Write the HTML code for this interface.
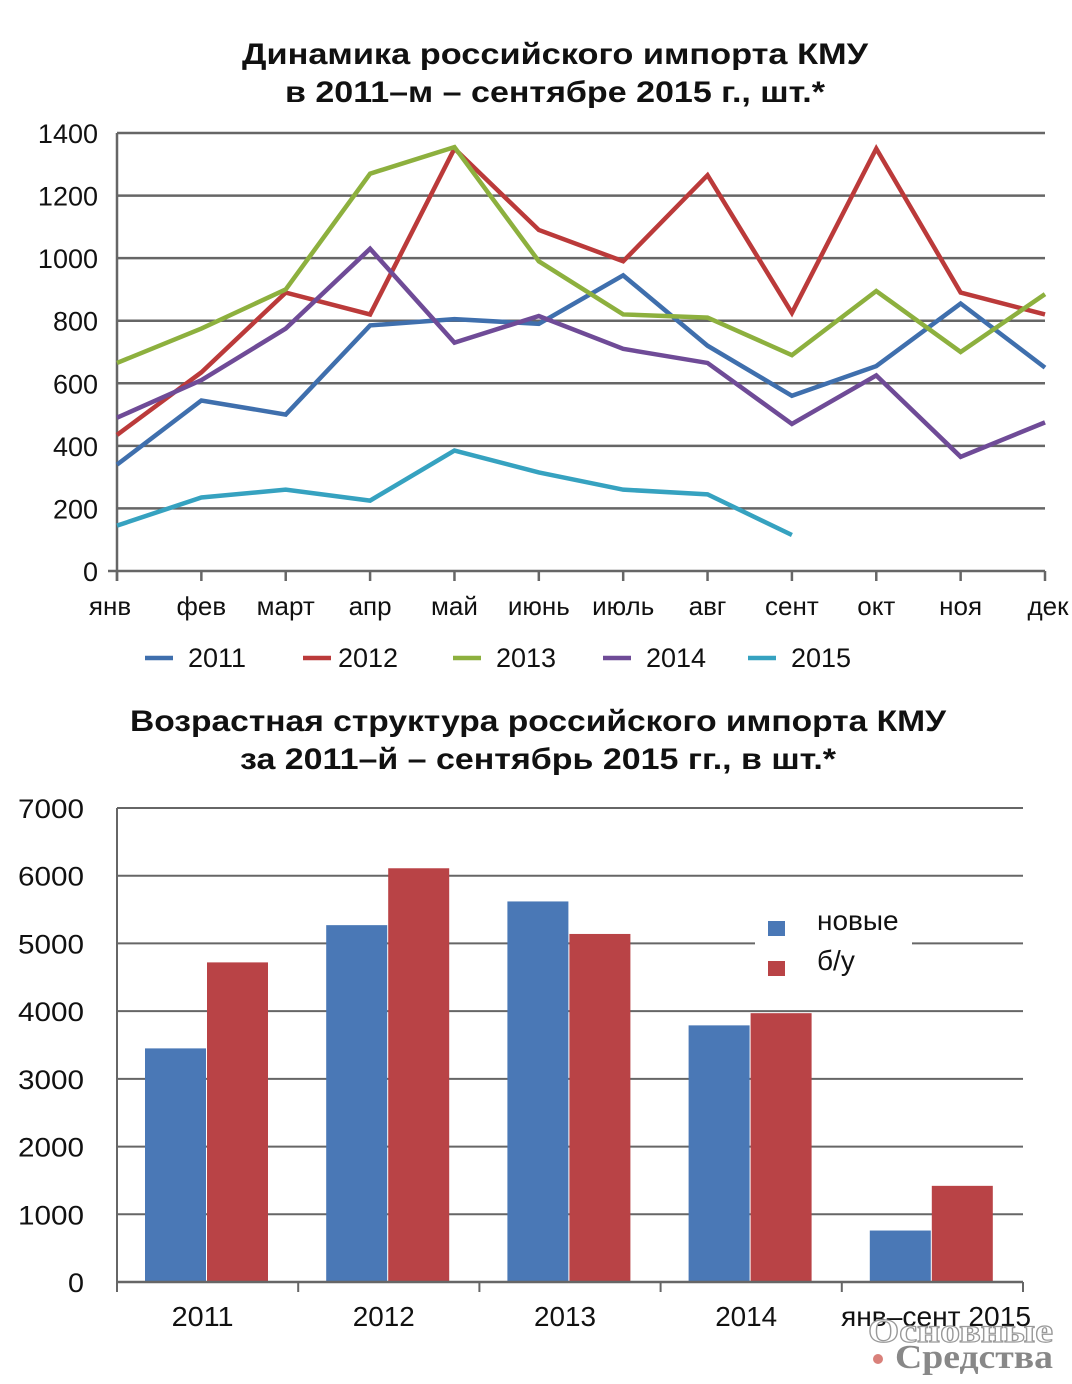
<!DOCTYPE html>
<html><head><meta charset="utf-8"><style>
body{margin:0;background:#fff;}
svg{display:block;font-family:"Liberation Sans","DejaVu Sans",sans-serif;}
</style></head><body>
<svg id="s" width="1072" height="1384" viewBox="0 0 1072 1384">
<text x="555" y="64" text-anchor="middle" font-size="30" font-weight="bold" fill="#111" textLength="626" lengthAdjust="spacingAndGlyphs">Динамика российского импорта КМУ</text>
<text x="555" y="102" text-anchor="middle" font-size="30" font-weight="bold" fill="#111" textLength="540" lengthAdjust="spacingAndGlyphs">в 2011–м – сентябре 2015 г., шт.*</text>
<text x="538" y="731" text-anchor="middle" font-size="30" font-weight="bold" fill="#111" textLength="816" lengthAdjust="spacingAndGlyphs">Возрастная структура российского импорта КМУ</text>
<text x="538" y="769" text-anchor="middle" font-size="30" font-weight="bold" fill="#111" textLength="596" lengthAdjust="spacingAndGlyphs">за 2011–й – сентябрь 2015 гг., в шт.*</text>
<g id="line"></g>
<g id="bar"></g>
<text x="1053" y="1342" text-anchor="end" font-family="Liberation Serif,serif" font-size="34" font-weight="bold" fill="#fff" stroke="#999" stroke-width="1.2" textLength="185" lengthAdjust="spacingAndGlyphs">Основные</text>
<circle cx="878" cy="1359" r="5" fill="#d9807a"/>
<text x="1053" y="1368" text-anchor="end" font-family="Liberation Serif,serif" font-size="34" font-weight="bold" fill="#888" textLength="158" lengthAdjust="spacingAndGlyphs">Средства</text>
</svg>
<script>
const months=["янв","фев","март","апр","май","июнь","июль","авг","сент","окт","ноя","дек"];
const years=["2011","2012","2013","2014","2015"];
const s2011=[340,545,500,785,805,790,945,720,560,655,855,650];
const s2012=[435,635,890,820,1350,1090,990,1265,825,1350,890,820];
const s2013=[665,775,900,1270,1355,990,820,810,690,895,700,885];
const s2014=[490,610,775,1030,730,815,710,665,470,625,365,475];
const s2015=[145,235,260,225,385,315,260,245,115];
const yTicks=[0,200,400,600,800,1000,1200,1400];
const barCats=["2011","2012","2013","2014","янв–сент 2015"];
const newVals=[3450,5270,5620,3790,760];
const usedVals=[4720,6110,5140,3970,1420];
const barTicks=[0,1000,2000,3000,4000,5000,6000,7000];
const colors=["#3f6fad","#bb3a3a","#8db03e","#6f4b97","#36a2c0"];
const NS="http://www.w3.org/2000/svg";
function mk(p,t,a){const e=document.createElementNS(NS,t);for(const k in a)e.setAttribute(k,a[k]);p.appendChild(e);return e;}
const L=document.getElementById('line');
const lx=i=>117+i*(1045-117)/11, ly=v=>571-v*(571-133)/1400;
yTicks.forEach(v=>{const g=mk(L,'line',{x1:v?117:108,x2:1045,y1:ly(v),y2:ly(v),stroke:'#666','stroke-width':2.5});


const t=mk(L,'text',{x:98,y:ly(v)+10,'text-anchor':'end','font-size':27,fill:'#111'});t.textContent=v;

});
mk(L,'line',{x1:117,x2:117,y1:133,y2:581,stroke:'#666','stroke-width':2.5});
months.forEach((m,i)=>{const tk=mk(L,'line',{x1:lx(i),x2:lx(i),y1:571,y2:581,stroke:'#666','stroke-width':2.5});


const t=mk(L,'text',{x:i==0?110:(i==11?1048:lx(i)),y:615,'text-anchor':'middle','font-size':26,fill:'#111'});t.textContent=m;

});
[s2011,s2012,s2013,s2014,s2015].forEach((s,k)=>{const p=mk(L,'polyline',{points:s.map((v,i)=>lx(i)+','+ly(v)).join(' '),fill:'none',stroke:colors[k],'stroke-width':4.5,'stroke-linejoin':'miter'});


const lxp=[145,303,453,603,748][k];
const ll=mk(L,'line',{x1:lxp,x2:lxp+28,y1:658,y2:658,stroke:colors[k],'stroke-width':4.5});


const t=mk(L,'text',{x:lxp+(k==1?35:43),y:667,'font-size':27,fill:'#111'});t.textContent=years[k];

});
const B=document.getElementById('bar');
const by=v=>1282-v*(1282-808)/7000, gw=(1023-117)/5;
barTicks.forEach(v=>{const g=mk(B,'line',{x1:117,x2:1023,y1:by(v),y2:by(v),stroke:'#666','stroke-width':2});


const t=mk(B,'text',{x:84,y:by(v)+10,'text-anchor':'end','font-size':27,fill:'#111',textLength:v?66:16,lengthAdjust:'spacingAndGlyphs'});t.textContent=v;

});
mk(B,'line',{x1:117,x2:117,y1:808,y2:1282,stroke:'#666','stroke-width':2});
barCats.forEach((c,i)=>{const x0=117+i*gw;
const r1=mk(B,'rect',{x:x0+28,y:by(newVals[i]),width:61,height:1282-by(newVals[i]),fill:'#4a78b6'});


const r2=mk(B,'rect',{x:x0+90,y:by(usedVals[i]),width:61,height:1282-by(usedVals[i]),fill:'#b94346'});


const t=mk(B,'text',{x:i==4?936:x0+gw/2-5,y:1326,'text-anchor':'middle','font-size':28,fill:'#111',textLength:i==4?190:62,lengthAdjust:'spacingAndGlyphs'});t.textContent=c;

});
for(let i=0;i<=5;i++){const tk=mk(B,'line',{x1:117+i*gw,x2:117+i*gw,y1:1282,y2:1292,stroke:'#666','stroke-width':2});

}
mk(B,'line',{x1:117,x2:1023,y1:1282,y2:1282,stroke:'#666','stroke-width':2.5});
const lg=mk(B,'rect',{x:755,y:905,width:157,height:80,fill:'#fff'});


[["новые","#4a78b6",916],["б/у","#b94346",956]].forEach(([n,c,y])=>{
const r=mk(B,'rect',{x:768,y:y+5,width:17,height:15,fill:c});


const t=mk(B,'text',{x:817,y:y+14,'font-size':28,fill:'#111'});t.textContent=n;

});
</script>
</body></html>
